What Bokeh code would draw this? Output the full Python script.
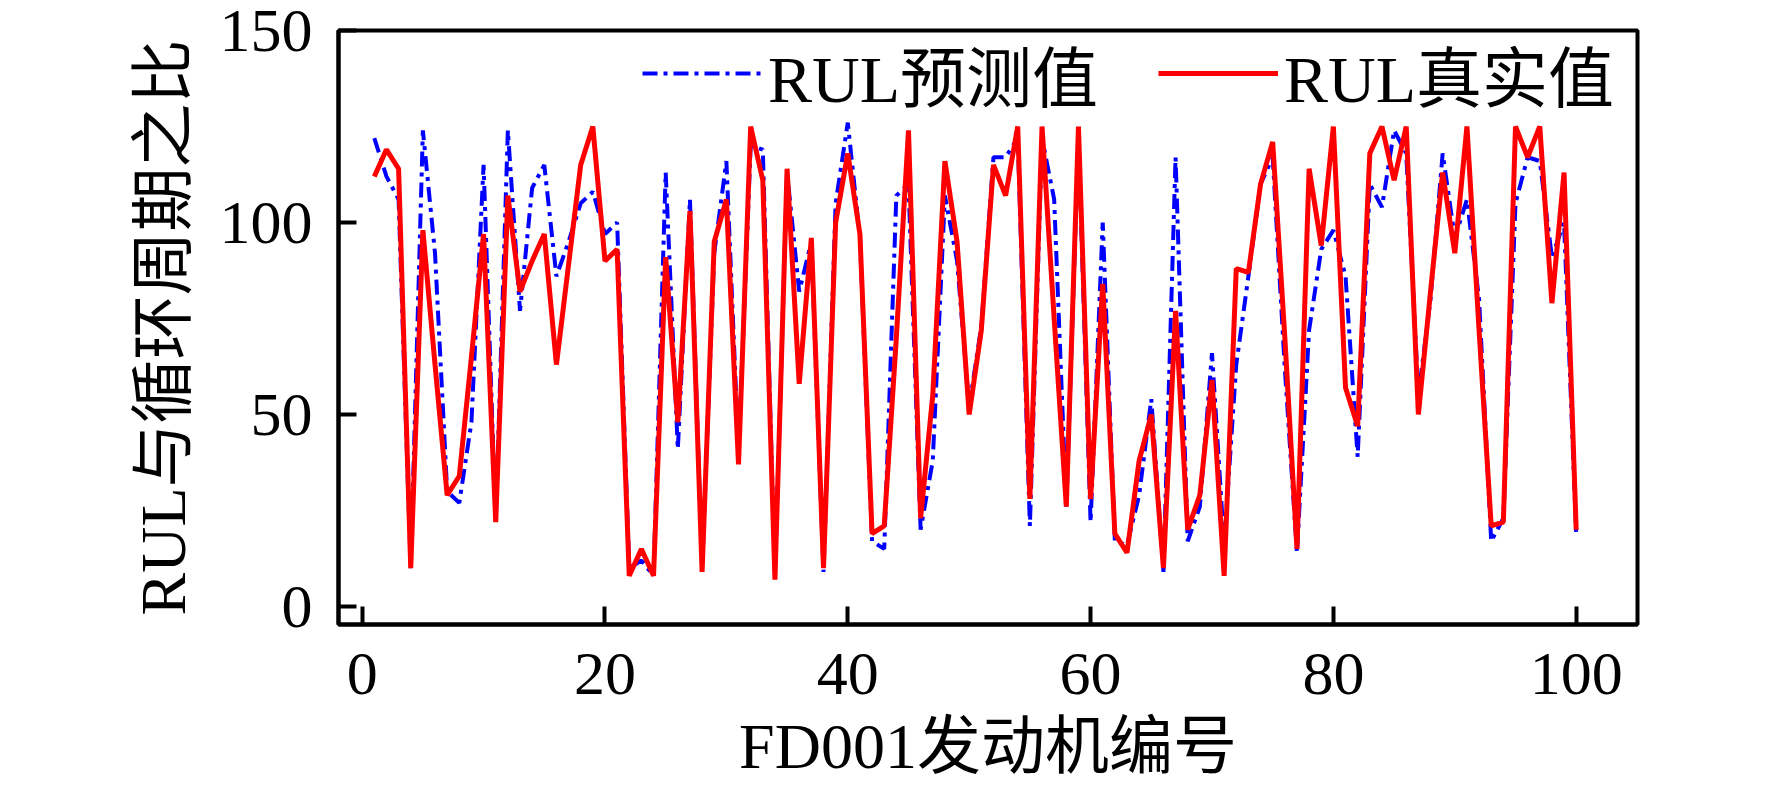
from bokeh.plotting import figure
from bokeh.models import Range1d, FixedTicker, Legend, LegendItem
from bokeh.embed import file_html
from bokeh.resources import INLINE

engine_id = list(range(1, 101))

rul_true = [112, 119, 114, 10, 98, 63, 29, 34, 65, 97,
            22, 107, 82, 90, 97, 63, 89, 115, 125, 90,
            93, 8, 15, 8, 91, 48, 103, 9, 95, 106,
            37, 125, 111, 7, 114, 58, 96, 10, 100, 118,
            97, 19, 21, 70, 124, 23, 55, 116, 95, 50,
            72, 115, 107, 125, 28, 125, 75, 26, 125, 28,
            84, 19, 14, 38, 50, 10, 77, 20, 29, 59,
            8, 88, 87, 110, 121, 70, 15, 114, 94, 125,
            57, 47, 118, 125, 111, 125, 50, 82, 113, 92,
            125, 72, 21, 22, 125, 117, 125, 79, 113, 20]

rul_pred = [122, 112, 106, 10, 124, 92, 30, 27, 48, 115,
            22, 124, 77, 109, 115, 86, 95, 105, 108, 97,
            100, 10, 12, 8, 113, 41, 106, 10, 92, 116,
            40, 120, 119, 8, 113, 82, 95, 9, 105, 126,
            96, 17, 15, 107, 110, 20, 38, 107, 90, 52,
            73, 117, 117, 122, 21, 122, 106, 26, 122, 22,
            100, 17, 16, 29, 54, 9, 117, 17, 26, 66,
            16, 63, 86, 110, 117, 62, 14, 72, 93, 98,
            86, 39, 110, 104, 124, 118, 55, 80, 118, 96,
            106, 80, 17, 23, 105, 117, 116, 91, 100, 19]

x_ticks = [0, 20, 40, 60, 80, 100]
y_ticks = [0, 50, 100, 150]
x_title = "FD001发动机编号"
y_title = "RUL与循环周期之比"
label_pred = "RUL预测值"
label_true = "RUL真实值"

FONT = "Liberation Serif, Noto Sans CJK SC"

W, H = 1756, 787
FL, FR, FT, FB = 338, 1637, 30, 624

p = figure(width=W, height=H, output_backend="svg", toolbar_location=None,
           x_range=Range1d(-1.95, 105.05), y_range=Range1d(-4.68, 150),
           min_border_left=FL, min_border_right=W - FR,
           min_border_top=FT, min_border_bottom=H - FB)

p.xgrid.visible = False
p.ygrid.visible = False
p.outline_line_color = "black"
p.outline_line_width = 4
p.background_fill_color = "white"
p.border_fill_color = "white"

r_pred = p.line(engine_id, rul_pred, line_color="#0000FF", line_width=4,
                line_dash="15 6 4 6")
r_true = p.line(engine_id, rul_true, line_color="#FF0000", line_width=5)

for ax in (p.xaxis[0], p.yaxis[0]):
    ax.axis_line_width = 4
    ax.axis_line_color = "black"
    ax.major_tick_line_width = 4
    ax.major_tick_line_color = "black"
    ax.major_tick_in = 18
    ax.major_tick_out = 0
    ax.minor_tick_line_color = None
    ax.major_label_text_font = FONT
    ax.major_label_text_font_size = "62px"
    ax.major_label_text_color = "black"
    ax.axis_label_text_font = FONT
    ax.axis_label_text_font_size = "64px"
    ax.axis_label_text_font_style = "normal"
    ax.axis_label_text_color = "black"

p.xaxis[0].ticker = FixedTicker(ticks=x_ticks)
p.yaxis[0].ticker = FixedTicker(ticks=y_ticks)
p.xaxis[0].axis_label = x_title
p.yaxis[0].axis_label = y_title
p.xaxis[0].major_label_standoff = 29
p.yaxis[0].major_label_standoff = 26
p.xaxis[0].axis_label_standoff = 14
p.yaxis[0].axis_label_standoff = 18

legend = Legend(items=[LegendItem(label=label_pred, renderers=[r_pred]),
                       LegendItem(label=label_true, renderers=[r_true])],
                location=(304, FB - 121), orientation="horizontal")
legend.label_text_font = FONT
legend.label_text_font_size = "66px"
legend.label_text_color = "black"
legend.glyph_width = 120
legend.glyph_height = 76
legend.label_standoff = 6
legend.spacing = 60
legend.padding = 5
legend.margin = 0
legend.border_line_color = None
legend.background_fill_alpha = 0
p.add_layout(legend)

open("out.html", "w").write(file_html(p, INLINE))
